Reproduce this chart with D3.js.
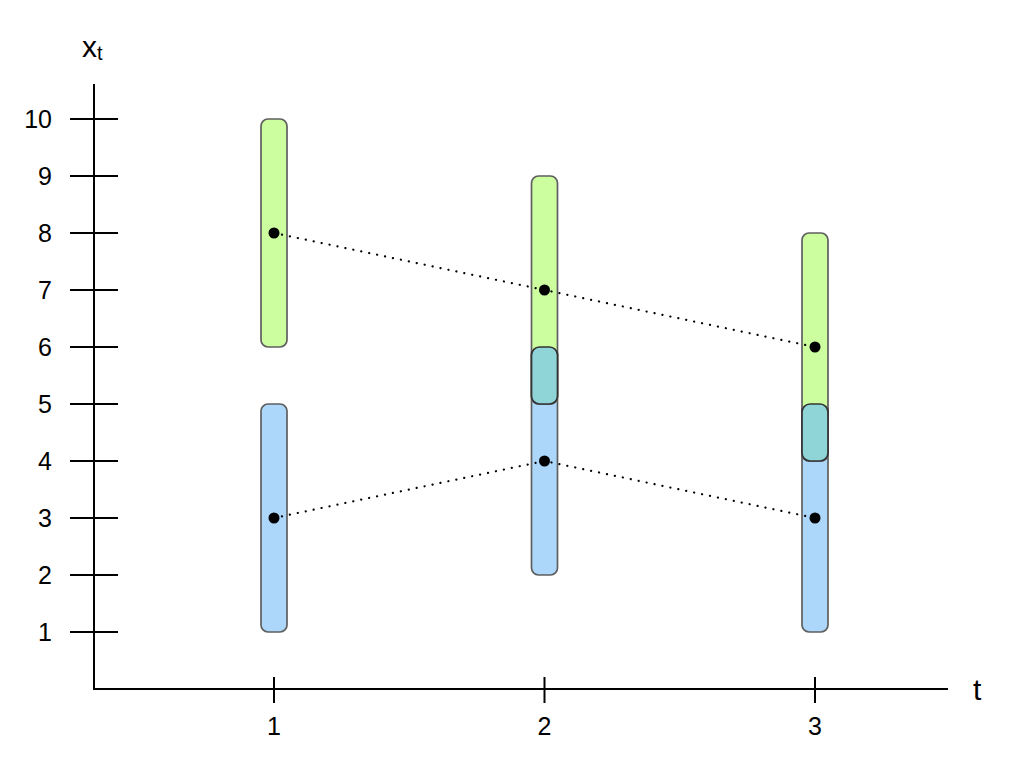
<!DOCTYPE html>
<html>
<head>
<meta charset="utf-8">
<script src="https://cdn.jsdelivr.net/npm/d3@7"></script>
<style>
  html, body { margin: 0; padding: 0; background: #fff; }
  svg { display: block; font-family: "Liberation Sans", Arial, sans-serif; }
</style>
</head>
<body>
<div id="chart"></div>
<script>
const width = 1024;
const height = 768;

// data
const steps = [1, 2, 3];
const yTicks = [1, 2, 3, 4, 5, 6, 7, 8, 9, 10];
const upperLow = [6, 5, 4];
const upperHigh = [10, 9, 8];
const upperPoint = [8, 7, 6];
const lowerLow = [1, 2, 1];
const lowerHigh = [5, 6, 5];
const lowerPoint = [3, 4, 3];

const svg = d3.select("#chart").append("svg")
  .attr("width", width)
  .attr("height", height);

const x = d3.scaleLinear().domain([1, 3]).range([274, 815]);
const y = d3.scaleLinear().domain([0, 10]).range([689, 119]);

const barW = 26;
const green = "#ccfd9f";
const blue = "#acd7fb";
const teal = "#8fd4d7";

// axes lines
svg.append("line")
  .attr("x1", 94).attr("x2", 94)
  .attr("y1", 84).attr("y2", y(0))
  .attr("stroke", "#000").attr("stroke-width", 2);
svg.append("line")
  .attr("x1", 93).attr("x2", 948)
  .attr("y1", y(0)).attr("y2", y(0))
  .attr("stroke", "#000").attr("stroke-width", 2);

// y ticks
svg.selectAll("line.ytick")
  .data(yTicks)
  .enter().append("line")
    .attr("class", "ytick")
    .attr("x1", 70).attr("x2", 118)
    .attr("y1", d => y(d)).attr("y2", d => y(d))
    .attr("stroke", "#000").attr("stroke-width", 2);

svg.selectAll("text.ylab")
  .data(yTicks)
  .enter().append("text")
    .attr("class", "ylab")
    .attr("x", 52)
    .attr("y", d => y(d) + 9)
    .attr("text-anchor", "end")
    .attr("font-size", 25)
    .text(d => d);

// x ticks
svg.selectAll("line.xtick")
  .data(steps)
  .enter().append("line")
    .attr("class", "xtick")
    .attr("x1", d => x(d)).attr("x2", d => x(d))
    .attr("y1", y(0) - 12).attr("y2", y(0) + 14)
    .attr("stroke", "#000").attr("stroke-width", 2);

svg.selectAll("text.xlab")
  .data(steps)
  .enter().append("text")
    .attr("class", "xlab")
    .attr("x", d => x(d))
    .attr("y", 735)
    .attr("text-anchor", "middle")
    .attr("font-size", 25)
    .text(d => d);

// axis titles
svg.append("text")
  .attr("x", 973).attr("y", 700)
  .attr("font-size", 30)
  .text("t");

const xt = svg.append("text")
  .attr("x", 82).attr("y", 57)
  .attr("font-size", 30);
xt.append("tspan").text("x");
xt.append("tspan").attr("font-size", 20).attr("dy", 3).text("t");

// intervals
function bars(lo, hi, fill) {
  svg.append("g").selectAll("rect")
    .data(steps)
    .enter().append("rect")
      .attr("x", (d, i) => x(d) - barW / 2)
      .attr("y", (d, i) => y(hi[i]))
      .attr("width", barW)
      .attr("height", (d, i) => y(lo[i]) - y(hi[i]))
      .attr("rx", 7)
      .attr("fill", fill)
      .attr("stroke", "#5f5f5f")
      .attr("stroke-width", 1.7);
}
bars(lowerLow, lowerHigh, blue);
bars(upperLow, upperHigh, green);

// overlap cells
const overlap = steps.map((d, i) => ({
  t: d,
  lo: Math.max(lowerLow[i], upperLow[i]),
  hi: Math.min(lowerHigh[i], upperHigh[i])
})).filter(o => o.hi > o.lo);

svg.append("g").selectAll("rect")
  .data(overlap)
  .enter().append("rect")
    .attr("x", d => x(d.t) - barW / 2)
    .attr("y", d => y(d.hi))
    .attr("width", barW)
    .attr("height", d => y(d.lo) - y(d.hi))
    .attr("rx", 8)
    .attr("fill", teal)
    .attr("stroke", "#333")
    .attr("stroke-width", 1.7);

// dotted paths and points
const line = d3.line().x((d, i) => x(steps[i])).y(d => y(d));

[upperPoint, lowerPoint].forEach(pts => {
  svg.append("path")
    .attr("d", line(pts))
    .attr("fill", "none")
    .attr("stroke", "#000")
    .attr("stroke-width", 2.2)
    .attr("stroke-linecap", "round")
    .attr("stroke-dasharray", "0.1,8");

  svg.append("g").selectAll("circle")
    .data(pts)
    .enter().append("circle")
      .attr("cx", (d, i) => x(steps[i]))
      .attr("cy", d => y(d))
      .attr("r", 5.5)
      .attr("fill", "#000");
});
</script>
</body>
</html>
